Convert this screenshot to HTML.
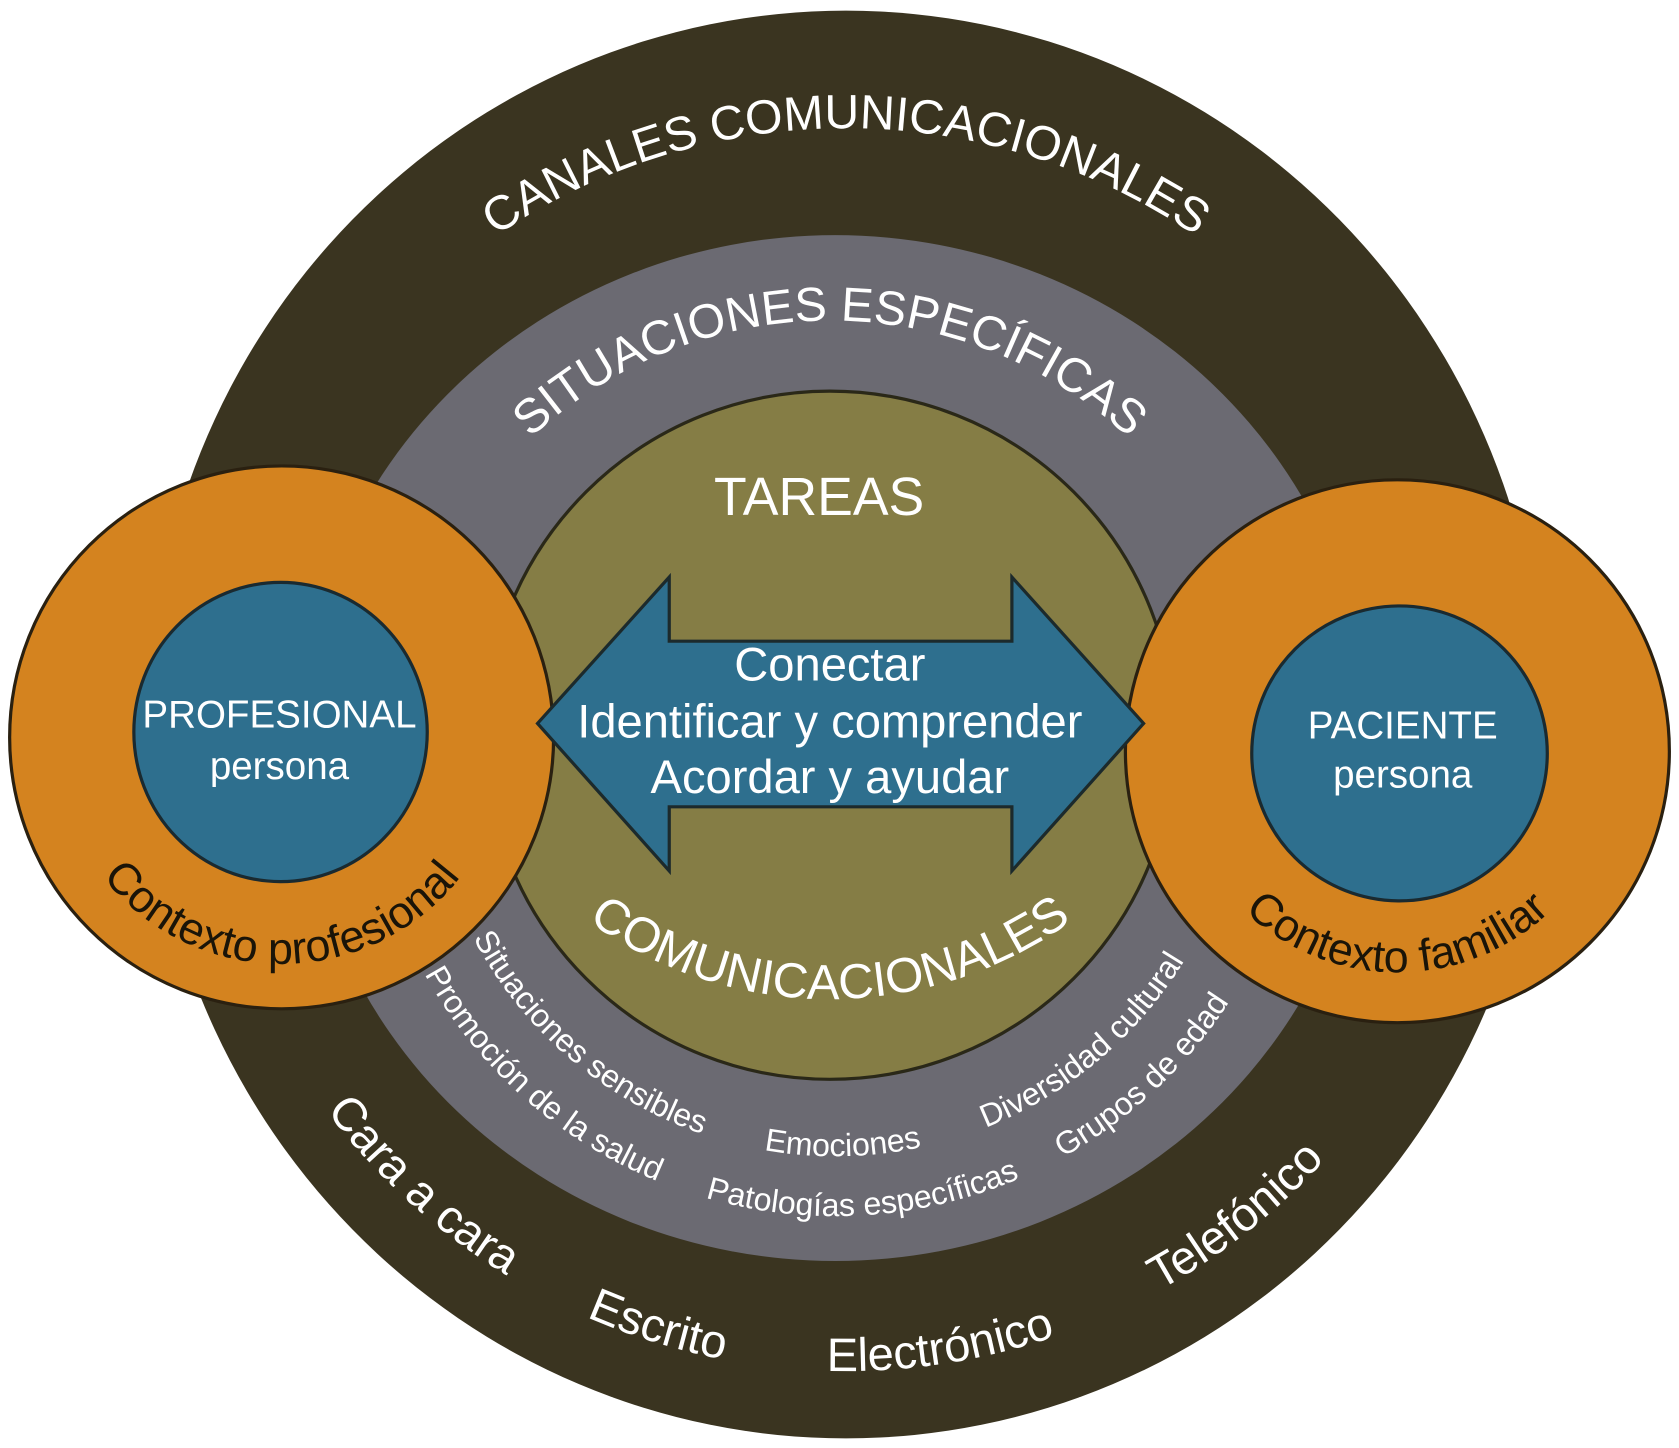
<!DOCTYPE html>
<html><head><meta charset="utf-8"><style>
html,body{margin:0;padding:0;background:#fff;}
svg{display:block;}
text{font-family:"Liberation Sans","DejaVu Sans",sans-serif;}
</style></head><body>
<svg width="1679" height="1448" viewBox="0 0 1568 1355" preserveAspectRatio="none" xmlns="http://www.w3.org/2000/svg">
<defs>
<path id="topOuter" d="M210,700 A580,580 0 0 1 1370,700"/>
<path id="topMid" d="M365,710 A410,410 0 0 1 1185,710"/>
<path id="botCom" d="M390,550 A385,385 0 0 0 1160,550"/>
<path id="botG1" d="M398,700 A382,382 0 0 0 1162,700"/>
<path id="botG2" d="M342,700 A438,438 0 0 0 1218,700"/>
<path id="botD" d="M185,678 A605,605 0 0 0 1395,678"/>
<path id="ctxL" d="M51,690 A212,212 0 0 0 475,690"/>
<path id="ctxR" d="M1098,703 A207,207 0 0 0 1512,703"/>
</defs>
<ellipse cx="790" cy="678" rx="652" ry="668" fill="#3a3420"/>
<ellipse cx="780" cy="700" rx="500" ry="480" fill="#6b6a72"/>
<circle cx="775" cy="688" r="322" fill="#857d45" stroke="#2a2818" stroke-width="3"/>
<circle cx="263" cy="690" r="254" fill="#d4831f" stroke="#2a2010" stroke-width="3"/>
<ellipse cx="262" cy="685" rx="137" ry="140" fill="#2e6f8e" stroke="#1a2a30" stroke-width="3"/>
<circle cx="1305" cy="703" r="254" fill="#d4831f" stroke="#2a2010" stroke-width="3"/>
<circle cx="1307" cy="705" r="138" fill="#2e6f8e" stroke="#1a2a30" stroke-width="3"/>
<path d="M502,677 L625,540 L625,600 L945,600 L945,540 L1068,677 L945,815 L945,755 L625,755 L625,815 Z" fill="#2e6f8e" stroke="#1c2a2c" stroke-width="3"/>

<g fill="#fff">
<text font-size="45" text-anchor="middle"><textPath href="#topOuter" startOffset="50%">CANALES COMUNICACIONALES</textPath></text>
<text font-size="45" text-anchor="middle"><textPath href="#topMid" startOffset="50%">SITUACIONES ESPECÍFICAS</textPath></text>
<text x="765" y="482" font-size="50" text-anchor="middle">TAREAS</text>
<text font-size="46" text-anchor="middle"><textPath href="#botCom" startOffset="50%">COMUNICACIONALES</textPath></text>
<text x="775" y="637" font-size="44" text-anchor="middle">Conectar</text>
<text x="775" y="690" font-size="44" text-anchor="middle">Identificar y comprender</text>
<text x="775" y="742" font-size="44" text-anchor="middle">Acordar  y ayudar</text>
<text x="261" y="681" font-size="36" text-anchor="middle">PROFESIONAL</text>
<text x="261" y="729" font-size="36" text-anchor="middle">persona</text>
<text x="1310" y="691" font-size="36" text-anchor="middle">PACIENTE</text>
<text x="1310" y="737" font-size="36" text-anchor="middle">persona</text>
<g font-size="30" text-anchor="middle">
<text><textPath href="#botG1" startOffset="329">Situaciones sensibles</textPath></text>
<text><textPath href="#botG1" startOffset="607">Emociones</textPath></text>
<text><textPath href="#botG1" startOffset="867">Diversidad cultural</textPath></text>
<text><textPath href="#botG2" startOffset="369">Promoción de la salud</textPath></text>
<text><textPath href="#botG2" startOffset="715">Patologías específicas</textPath></text>
<text><textPath href="#botG2" startOffset="1017">Grupos de edad</textPath></text>
</g>
<g font-size="44" text-anchor="middle">
<text><textPath href="#botD" startOffset="502">Cara a cara</textPath></text>
<text><textPath href="#botD" startOffset="768">Escrito</textPath></text>
<text><textPath href="#botD" startOffset="1041">Electrónico</textPath></text>
<text><textPath href="#botD" startOffset="1355">Telefónico</textPath></text>
</g>
</g>
<g fill="#1a1408" font-size="42" text-anchor="middle">
<text><textPath href="#ctxL" startOffset="50%">Contexto profesional</textPath></text>
<text><textPath href="#ctxR" startOffset="50%">Contexto familiar</textPath></text>
</g>
</svg>
</body></html>
